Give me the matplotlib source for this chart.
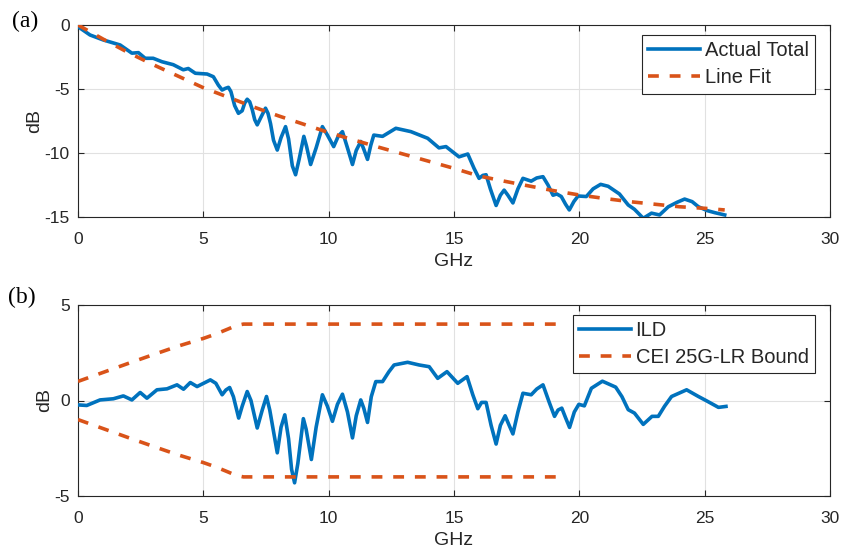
import matplotlib
matplotlib.use("Agg")
import matplotlib.pyplot as plt

# ---- data ----
total_freq = [0.0, 0.48, 1.01, 1.68, 2.15, 2.41, 2.68, 3.0, 3.35, 3.8, 4.2, 4.4, 4.68, 5.15,
              5.4, 5.6, 5.75, 5.88, 6.0, 6.1, 6.25, 6.4, 6.55, 6.65, 6.75, 6.85, 6.95, 7.05,
              7.15, 7.3, 7.48, 7.58, 7.68, 7.8, 7.95, 8.1, 8.28, 8.4, 8.55, 8.68, 8.82, 9.01,
              9.12, 9.28, 9.5, 9.75, 9.95, 10.2, 10.38, 10.55, 10.75, 10.95, 11.1, 11.28,
              11.4, 11.55, 11.68, 11.8, 12.15, 12.68, 13.28, 13.95, 14.4, 14.68, 15.2, 15.55,
              15.8, 16.0, 16.15, 16.28, 16.45, 16.68, 16.85, 17.0, 17.15, 17.35, 17.55, 17.75,
              18.08, 18.3, 18.55, 18.75, 18.95, 19.1, 19.28, 19.45, 19.6, 19.78, 19.95, 20.28,
              20.55, 20.85, 21.15, 21.6, 21.95, 22.2, 22.55, 22.88, 23.2, 23.55, 23.9, 24.2,
              24.5, 24.75, 25.1, 25.4, 25.8]
total_db = [-0.13, -0.78, -1.17, -1.56, -2.2, -2.16, -2.6, -2.6, -2.87, -3.1, -3.5, -3.4, -3.77,
            -3.83, -4.04, -4.7, -5.08, -4.95, -4.87, -5.2, -6.3, -6.9, -6.7, -6.1, -5.8, -6.0,
            -6.6, -7.4, -7.8, -7.2, -6.5, -6.9, -7.7, -9.0, -9.77, -8.8, -7.94, -8.9, -11.0,
            -11.7, -10.5, -8.7, -9.5, -10.9, -9.6, -7.94, -8.6, -9.5, -8.7, -8.33, -9.6,
            -10.9, -9.8, -9.1, -9.7, -10.5, -9.4, -8.6, -8.7, -8.07, -8.33, -8.85, -9.6, -9.5,
            -10.3, -10.08, -11.2, -11.98, -11.75, -11.7, -12.8, -14.1, -13.3, -12.9, -13.3,
            -13.9, -12.8, -11.98, -12.2, -11.95, -11.85, -12.5, -13.3, -13.2, -13.4, -14.0,
            -14.45, -13.8, -13.36, -13.4, -12.8, -12.45, -12.6, -13.2, -14.06, -14.4, -15.1,
            -14.7, -14.84, -14.2, -13.85, -13.6, -13.8, -14.2, -14.5, -14.66, -14.84]

fit_freq = [0, 1, 2, 3, 4, 5, 6, 7, 8, 9, 10, 11, 12, 13, 14, 15, 16, 17, 18, 19, 20, 21,
            22, 23, 24, 25, 25.8]
fit_db = [0.0, -1.1, -2.15, -3.1, -4.0, -4.9, -5.65, -6.4, -7.1, -7.75, -8.4, -8.98, -9.55,
          -10.1, -10.65, -11.2, -11.8, -12.2, -12.58, -12.95, -13.28, -13.55, -13.8, -14.0,
          -14.2, -14.32, -14.45]

ild_freq = [0, 0.35, 0.88, 1.41, 1.81, 2.15, 2.48, 2.75, 3.15, 3.55, 3.95, 4.21, 4.48, 4.75,
            5.28, 5.5, 5.75, 5.9, 6.05, 6.2, 6.41, 6.55, 6.75, 6.9, 7.15, 7.35, 7.52, 7.65,
            7.95, 8.1, 8.25, 8.4, 8.52, 8.64, 8.77, 8.99, 9.1, 9.31, 9.5, 9.75, 9.95, 10.15,
            10.35, 10.55, 10.75, 10.95, 11.1, 11.28, 11.4, 11.55, 11.7, 11.88, 12.15, 12.4,
            12.61, 13.15, 13.61, 14.01, 14.35, 14.72, 15.15, 15.52, 15.75, 15.95, 16.1, 16.28,
            16.48, 16.68, 16.85, 17.04, 17.2, 17.35, 17.55, 17.75, 18.08, 18.3, 18.55, 18.8,
            19.01, 19.15, 19.3, 19.45, 19.61, 19.8, 19.98, 20.2, 20.48, 20.92, 21.45, 21.7,
            21.95, 22.2, 22.55, 22.9, 23.15, 23.4, 23.68, 24.28, 24.75, 25.08, 25.55, 25.85]
ild_db = [-0.23, -0.26, 0.03, 0.09, 0.24, 0.03, 0.42, 0.12, 0.56, 0.61, 0.82, 0.59, 0.94,
          0.73, 1.08, 0.9, 0.3, 0.55, 0.68, 0.2, -0.92, -0.3, 0.47, 0.0, -1.44, -0.5, 0.21,
          -0.5, -2.74, -1.4, -0.75, -2.0, -3.6, -4.31, -3.3, -0.95, -1.5, -3.09, -1.4, 0.3,
          -0.3, -1.09, -0.2, 0.33, -0.6, -1.96, -0.8, 0.03, -0.4, -1.15, 0.2, 0.99, 0.99,
          1.5, 1.86, 2.0, 1.86, 1.77, 1.16, 1.51, 0.9, 1.25, 0.3, -0.43, -0.1, -0.1, -1.3,
          -2.28, -1.3, -0.8, -1.3, -1.75, -0.6, 0.38, 0.3, 0.6, 0.82, -0.1, -0.83, -0.5,
          -0.4, -0.9, -1.41, -0.6, -0.2, -0.28, 0.64, 1.01, 0.7, 0.2, -0.48, -0.66, -1.25,
          -0.83, -0.83, -0.3, 0.21, 0.56, 0.21, -0.02, -0.36, -0.31]

bound_freq = [0, 1, 2, 3, 4, 5, 5.5, 6.0, 6.3, 6.6, 19.2]
bound_upper = [1.0, 1.47, 1.94, 2.4, 2.85, 3.25, 3.48, 3.75, 3.92, 4.0, 4.0]
bound_lower = [-1.0, -1.47, -1.94, -2.4, -2.85, -3.25, -3.48, -3.75, -3.92, -4.0, -4.0]

x_ticks = [0, 5, 10, 15, 20, 25, 30]
top_yticks = [-15, -10, -5, 0]
bot_yticks = [-5, 0, 5]

# ---- style ----
BLUE = "#0072BD"
ORANGE = "#D95319"
TXT = "#262626"
plt.rcParams["font.family"] = ["Liberation Sans", "DejaVu Sans"]
plt.rcParams["axes.unicode_minus"] = False

fig = plt.figure(figsize=(8.44, 5.5), dpi=100)
W, H = 844, 550
ax1 = fig.add_axes([78 / W, 1 - 217 / H, (830 - 78) / W, (217 - 25) / H])
ax2 = fig.add_axes([78 / W, 1 - 496 / H, (830 - 78) / W, (496 - 305) / H])

lw = 2.6
dash = (3.0, 3.0)


def style(ax):
    ax.set_xlim(0, 30)
    ax.set_xticks(x_ticks)
    ax.grid(True, color="#e1e1e1", linewidth=0.8)
    ax.set_axisbelow(True)
    ax.tick_params(direction="in", length=4, width=0.8, colors=TXT, labelsize=12.5,
                   top=True, right=True, labelcolor=TXT)
    ax.tick_params(axis="x", pad=11)
    ax.tick_params(axis="y", pad=6)
    for s in ax.spines.values():
        s.set_color(TXT)
        s.set_linewidth(0.8)
    ax.set_xlabel("GHz", fontsize=14, color=TXT, labelpad=4)
    ax.set_ylabel("dB", fontsize=14, color=TXT, labelpad=1)


def legend(ax):
    lg = ax.legend(loc="upper right", bbox_to_anchor=(0.98, 0.948), fontsize=14.5,
                   frameon=True, fancybox=False, edgecolor=TXT, handlelength=2.6,
                   handletextpad=0.2, borderpad=0.32, labelspacing=0.38, borderaxespad=0,
                   framealpha=1)
    lg.get_frame().set_linewidth(0.8)
    for t in lg.get_texts():
        t.set_color(TXT)


ax1.plot(total_freq, total_db, color=BLUE, lw=lw, label="Actual Total", zorder=3)
ax1.plot(fit_freq, fit_db, color=ORANGE, lw=lw, ls=(0, dash), label="Line Fit", zorder=4)
ax1.set_ylim(-15, 0)
ax1.set_yticks(top_yticks)
style(ax1)
legend(ax1)

ax2.plot(ild_freq, ild_db, color=BLUE, lw=lw, label="ILD", zorder=3)
ax2.plot(bound_freq, bound_upper, color=ORANGE, lw=lw, ls=(0, dash),
         label="CEI 25G-LR Bound", zorder=4)
ax2.plot(bound_freq, bound_lower, color=ORANGE, lw=lw, ls=(0, dash), zorder=4)
ax2.set_ylim(-5, 5)
ax2.set_yticks(bot_yticks)
style(ax2)
legend(ax2)

fig.text(12 / W, 1 - 21 / H, "(a)", fontsize=17, family="Liberation Serif",
         va="center", ha="left", color="black")
fig.text(8 / W, 1 - 297 / H, "(b)", fontsize=17, family="Liberation Serif",
         va="center", ha="left", color="black")

fig.savefig("out.png", dpi=100)
